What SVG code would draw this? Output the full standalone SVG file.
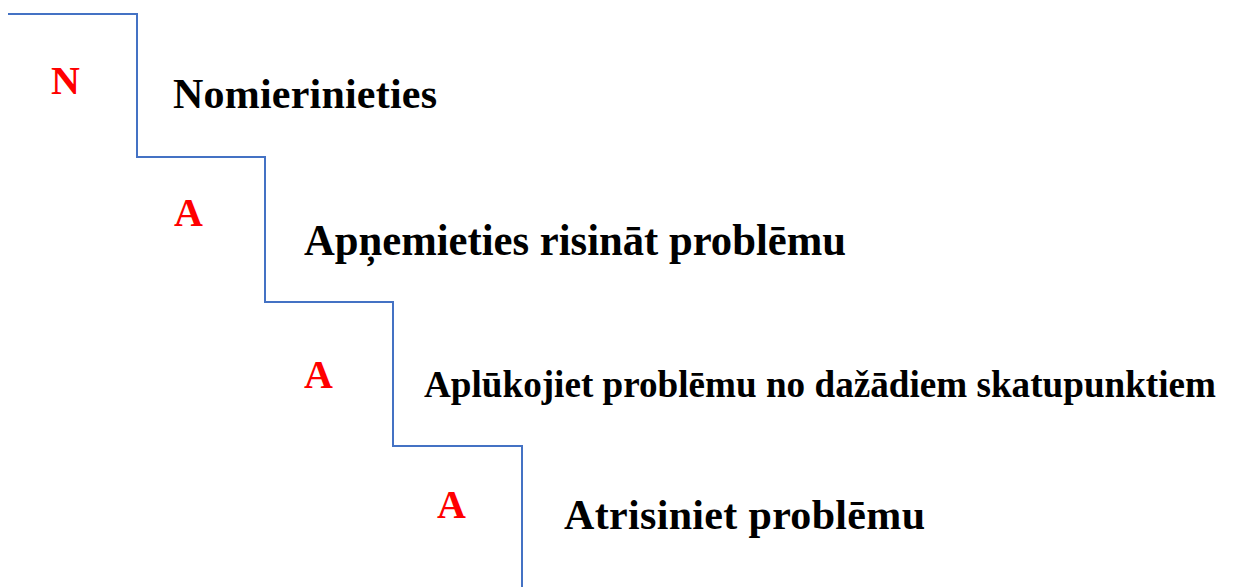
<svg xmlns="http://www.w3.org/2000/svg" width="1238" height="587" viewBox="0 0 1238 587">
<style>
.step{fill:none;stroke:#4472C4;stroke-width:2}
.lbl{font-family:"Liberation Serif","Times New Roman",serif;font-weight:bold;fill:#000}
.ltr{font-family:"Liberation Serif","Times New Roman",serif;font-weight:bold;fill:#FF0000;font-size:40px}
</style>
<rect width="1238" height="587" fill="#fff"/>
<g id="connectors">
<path class="step" d="M8,14 H137 V157 H265 V302 H393 V446 H522 V587"/>
</g>
<g id="step1">
<text class="ltr" x="51" y="94">N</text>
<text class="lbl" x="173" y="108" font-size="42" textLength="264">Nomierinieties</text>
</g>
<g id="step2">
<text class="ltr" x="174" y="226">A</text>
<text class="lbl" x="304" y="255" font-size="45" textLength="542" lengthAdjust="spacingAndGlyphs">Apņemieties risināt problēmu</text>
</g>
<g id="step3">
<text class="ltr" x="304" y="388">A</text>
<text class="lbl" x="424" y="397" font-size="37" textLength="792" lengthAdjust="spacingAndGlyphs">Aplūkojiet problēmu no dažādiem skatupunktiem</text>
</g>
<g id="step4">
<text class="ltr" x="437" y="518">A</text>
<text class="lbl" x="564" y="529" font-size="42" textLength="361">Atrisiniet problēmu</text>
</g>
</svg>
